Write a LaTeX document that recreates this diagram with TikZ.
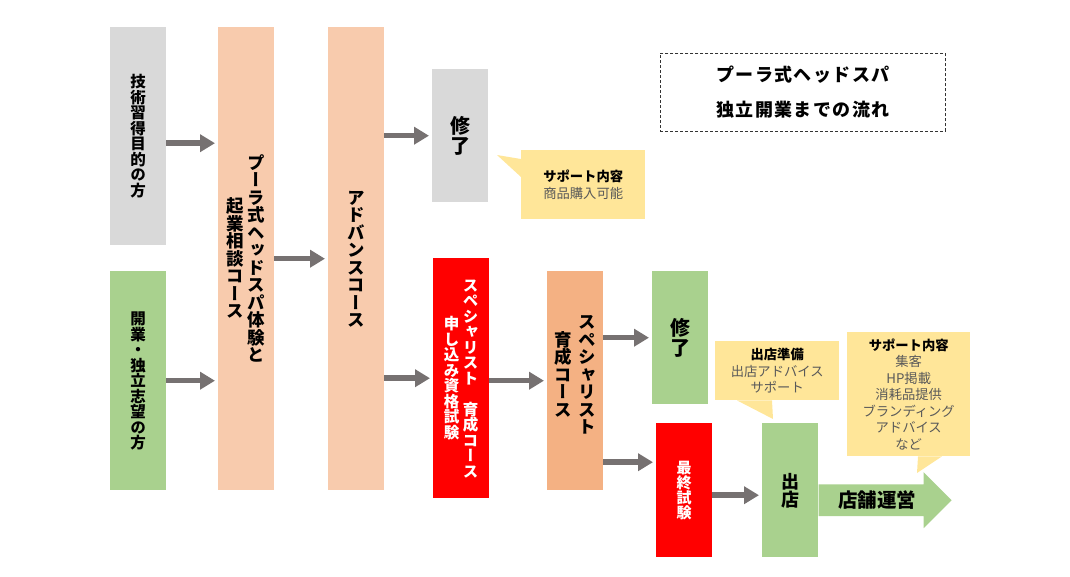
\documentclass[tikz,border=0pt]{standalone}
\usepackage{fontspec}
\setmainfont{Noto Sans CJK JP}
\newfontfamily\tate[RawFeature=+vert]{Noto Sans CJK JP}
\newcommand\tatechars[1]{\ifx\relax#1\else\hbox to 1em{\hss\vrule height .88em depth .12em width 0pt\relax #1\hss}\expandafter\tatechars\fi}
\newcommand\tatecol[1]{\ensuremath{\vcenter{\offinterlineskip\tatechars#1\relax}}}
\definecolor{boxgray}{RGB}{217,217,217}
\definecolor{boxgreen}{RGB}{169,209,142}
\definecolor{boxpeach}{RGB}{248,203,173}
\definecolor{boxorange}{RGB}{244,177,131}
\definecolor{boxred}{RGB}{255,0,0}
\definecolor{noteyellow}{RGB}{255,230,153}
\definecolor{notetext}{RGB}{89,89,89}
\definecolor{arrowgray}{RGB}{118,113,113}
\usetikzlibrary{arrows.meta,positioning,calc,shapes.arrows}
\tikzset{
  box/.style={anchor=north west,minimum width=56pt,inner sep=0pt},
  tatetext/.style={align=center,inner sep=0pt},
  flow/.style={draw=arrowgray,line width=5.5pt,-{Triangle[length=15pt,width=17pt]},shorten >=3pt},
  note/.style={anchor=north west,fill=noteyellow,align=center,inner sep=0pt,font=\fontsize{13.3}{16.5}\selectfont},
}
\begin{document}
\begin{tikzpicture}[x=1pt,y=-1pt]
\useasboundingbox (0,0) rectangle (1070,576);
\node[box,fill=boxgray,minimum height=218pt] (aim) at (110,27) {};
\node[box,fill=boxgreen,minimum height=219pt] (indep) at (110,271) {};
\node[box,fill=boxpeach,minimum height=463pt] (trial) at (218,27) {};
\node[box,fill=boxpeach,minimum height=463pt] (adv) at (328,27) {};
\node[box,fill=boxgray,minimum height=133pt] (done1) at (432,69) {};
\node[box,fill=boxred,minimum height=240pt] (exam) at (433,258) {};
\node[box,fill=boxorange,minimum height=219pt] (spec) at (547,271) {};
\node[box,fill=boxgreen,minimum height=133pt] (done2) at (652,271) {};
\node[box,fill=boxred,minimum height=134pt] (final) at (656,423) {};
\node[box,fill=boxgreen,minimum height=134pt] (shop) at (762,423) {};

\node[tatetext,font=\tate\bfseries\fontsize{15.5}{19}\selectfont] at (aim.center) {\tatecol{技術習得目的の方}};
\node[tatetext,font=\tate\bfseries\fontsize{15.5}{19}\selectfont] at (indep.center) {\tatecol{開業・独立志望の方}};
\node[tatetext,font=\tate\bfseries\fontsize{17.5}{21}\selectfont] at (trial.center) {\tatecol{起業相談コース}\hspace{3.5pt}\tatecol{プーラ式ヘッドスパ体験と}};
\node[tatetext,font=\tate\bfseries\fontsize{17.5}{21}\selectfont] at (adv.center) {\tatecol{アドバンスコース}};
\node[tatetext,font=\tate\bfseries\fontsize{20}{24}\selectfont] at (done1.center) {\tatecol{修了}};
\node[tatetext,text=white,font=\tate\bfseries\fontsize{15.5}{19}\selectfont] at (exam.center) {\tatecol{申し込み資格試験}\hspace{3.5pt}\tatecol{スペシャリスト　育成コース}};
\node[tatetext,font=\tate\bfseries\fontsize{17.5}{21}\selectfont] at ([yshift=6pt]spec.center) {\tatecol{育成コース}\hspace{6.5pt}\tatecol{スペシャリスト}};
\node[tatetext,font=\tate\bfseries\fontsize{20}{24}\selectfont] at (done2.center) {\tatecol{修了}};
\node[tatetext,text=white,font=\tate\bfseries\fontsize{15}{19}\selectfont] at (final.center) {\tatecol{最終試験}};
\node[tatetext,font=\tate\bfseries\fontsize{18}{22}\selectfont] at (shop.center) {\tatecol{出店}};

\coordinate (aimout) at ([yshift=-7pt]aim.east);
\draw[flow] (aimout) -- (aimout -| trial.west);
\draw[flow] (indep.east) -- (indep.east -| trial.west);
\draw[flow] (trial.east) -- (trial.east -| adv.west);
\draw[flow] (done1.west -| adv.east) -- (done1.west);
\draw[flow] (exam.west -| adv.east) -- (exam.west);
\draw[flow] (spec.west -| exam.east) -- (spec.west);
\draw[flow] (done2.west -| spec.east) -- (done2.west);
\coordinate (finin) at ([yshift=28pt]final.west);
\draw[flow] (finin -| spec.east) -- (finin);
\coordinate (finout) at ([yshift=-5pt]final.east);
\draw[flow] (finout) -- (finout -| shop.west);

\node[single arrow,fill=boxgreen,anchor=tail,minimum height=133pt,minimum width=56pt,
  single arrow head extend=12pt,inner xsep=4pt,inner ysep=6.25pt,
  font=\bfseries\fontsize{19.5}{22}\selectfont] (run) at ([yshift=-10pt]shop.east) {店舗運営};

\node[note,minimum width=124pt,minimum height=69pt] (sup1) at (521,150) {\textbf{サポート内容}\\\color{notetext}商品購入可能};
\coordinate (tip1) at (497,155);
\fill[noteyellow] ([yshift=-9pt]sup1.north west) -- (tip1) -- ([yshift=-27pt]sup1.north west) -- cycle;

\node[note,minimum width=124pt,minimum height=59pt] (sup2) at (715,341) {\textbf{出店準備}\\\color{notetext}出店アドバイス\\\color{notetext}サポート};
\coordinate (tip2) at (773,419);
\fill[noteyellow] ([xshift=22pt]sup2.south west) -- (tip2) -- ([xshift=57pt]sup2.south west) -- cycle;

\node[note,minimum width=123pt,minimum height=124pt] (sup3) at (847,332) {\textbf{サポート内容}\\\color{notetext}集客\\\color{notetext}HP掲載\\\color{notetext}消耗品提供\\\color{notetext}ブランディング\\\color{notetext}アドバイス\\\color{notetext}など};
\coordinate (tip3) at (917,473);
\fill[noteyellow] ([xshift=71pt]sup3.south west) -- (tip3) -- ([xshift=95pt]sup3.south west) -- cycle;

\node[draw=black!80,dash pattern=on 3pt off 2pt,line width=0.8pt,anchor=north west,minimum width=285pt,minimum height=78pt,
  align=center,font=\bfseries\fontsize{18}{35}\selectfont\addfontfeatures{LetterSpace=8}] (ttl) at (660,53) {プーラ式ヘッドスパ\\独立開業までの流れ};
\end{tikzpicture}
\end{document}
